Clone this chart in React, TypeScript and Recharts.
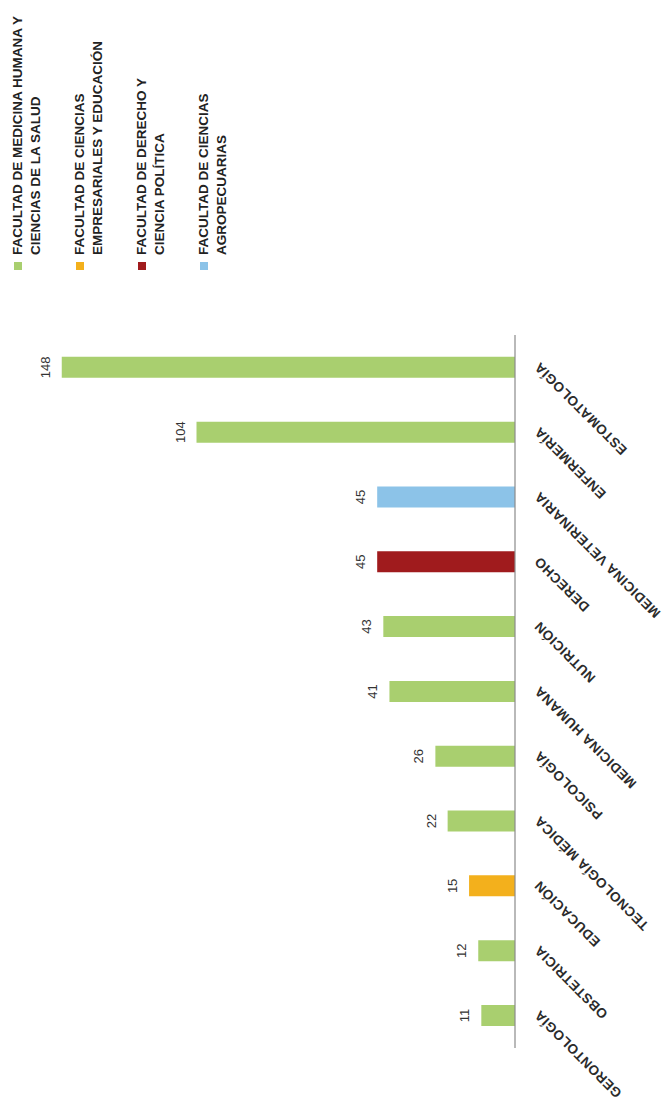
import { BarChart, Bar, XAxis, YAxis, Cell, LabelList, Legend } from 'recharts';

// chart is drawn upright and then turned a quarter turn to the left, like the scan
const careers = [
  'GERONTOLOGÍA', 'OBSTETRICIA', 'EDUCACIÓN', 'TECNOLOGÍA MÉDICA', 'PSICOLOGÍA',
  'MEDICINA HUMANA', 'NUTRICIÓN', 'DERECHO', 'MEDICINA VETERINARIA', 'ENFERMERÍA', 'ESTOMATOLOGÍA',
];
const students = [11, 12, 15, 22, 26, 41, 43, 45, 45, 104, 148];
const careerFaculty = [0, 0, 1, 0, 0, 0, 0, 2, 3, 0, 0];

const faculties = [
  ['FACULTAD DE MEDICINA HUMANA Y', 'CIENCIAS DE LA SALUD'],
  ['FACULTAD DE CIENCIAS', 'EMPRESARIALES Y EDUCACIÓN'],
  ['FACULTAD DE DERECHO Y', 'CIENCIA POLÍTICA'],
  ['FACULTAD DE CIENCIAS', 'AGROPECUARIAS'],
];
const facultyColors = ['#a9cf6f', '#f3b01c', '#a01b1d', '#8cc3e8'];

const data = careers.map((name, i) => ({
  name,
  value: students[i],
  faculty: careerFaculty[i],
}));

const W = 1118;
const H = 670;

function CareerTick({ x, y, payload }: any) {
  return (
    <g transform={`translate(${x + 6},${y + 17})`}>
      <text
        textAnchor="end"
        transform="rotate(-45)"
        fontSize={13.5}
        fontWeight="bold"
        letterSpacing={0.5}
        fill="#2b2b2b"
        fontFamily="'Liberation Sans', Arial, sans-serif"
      >
        {payload.value}
      </text>
    </g>
  );
}

function FacultyLegend() {
  return (
    <div style={{ fontFamily: "'Liberation Sans', Arial, sans-serif", fontWeight: 'bold', fontSize: 13.5, color: '#222', lineHeight: '18px' }}>
      {faculties.map((lines, i) => (
        <div key={i} style={{ display: 'flex', alignItems: 'flex-start', marginBottom: 26 }}>
          <span style={{ width: 8, height: 8, marginTop: 5, marginRight: 7, background: facultyColors[i], flex: 'none' }} />
          <div>
            {lines.map((l) => <div key={l} style={{ whiteSpace: 'nowrap' }}>{l}</div>)}
          </div>
        </div>
      ))}
    </div>
  );
}

export default function App() {
  return (
    <div style={{ position: 'absolute', left: 0, top: 0, width: H, height: W, overflow: 'hidden', background: '#fff' }}>
      <div style={{ width: W, height: H, transformOrigin: '0 0', transform: `translate(0px, ${W}px) rotate(-90deg)` }}>
        <BarChart width={W} height={H} data={data} margin={{ top: 25, right: 335, bottom: 125, left: 70 }}>
          <XAxis
            dataKey="name"
            interval={0}
            tickLine={false}
            axisLine={{ stroke: '#8a8a8a', strokeWidth: 1.2 }}
            tick={<CareerTick />}
          />
          <YAxis hide domain={[0, 160]} />
          <Legend
            layout="vertical"
            align="center"
            verticalAlign="middle"
            wrapperStyle={{ position: 'absolute', left: 848, top: 9, width: 270 }}
            content={<FacultyLegend />}
          />
          <Bar dataKey="value" barSize={21} isAnimationActive={false}>
            {data.map((d) => (
              <Cell key={d.name} fill={facultyColors[d.faculty]} />
            ))}
            <LabelList
              dataKey="value"
              position="top"
              offset={12}
              fontSize={13}
              fill="#333"
              fontFamily="'Liberation Sans', Arial, sans-serif"
            />
          </Bar>
        </BarChart>
      </div>
    </div>
  );
}
